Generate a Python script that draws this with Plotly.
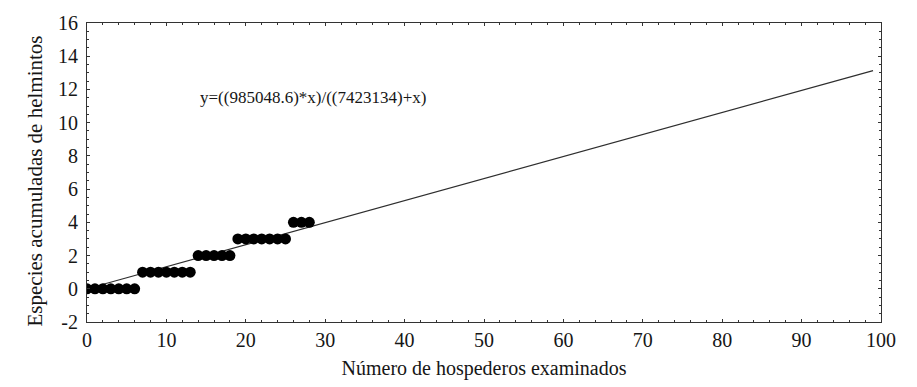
import numpy as np
import plotly.graph_objects as go

# Accumulated helminth species per number of hosts examined
hosts = [0, 1, 2, 3, 4, 5, 6,
         7, 8, 9, 10, 11, 12, 13,
         14, 15, 16, 17, 18,
         19, 20, 21, 22, 23, 24, 25,
         26, 27, 28]
species = [0, 0, 0, 0, 0, 0, 0,
           1, 1, 1, 1, 1, 1, 1,
           2, 2, 2, 2, 2,
           3, 3, 3, 3, 3, 3, 3,
           4, 4, 4]

# Axis tick labels (plain hyphen for negatives)
y_tick_vals = [-2, 0, 2, 4, 6, 8, 10, 12, 14, 16]
y_tick_text = ["-2", "0", "2", "4", "6", "8", "10", "12", "14", "16"]
x_tick_vals = [0, 10, 20, 30, 40, 50, 60, 70, 80, 90, 100]

# Fitted saturation curve parameters
a_coef = 985048.6
b_coef = 7423134
fit_x = np.linspace(0, 99, 200)
fit_y = (a_coef * fit_x) / (b_coef + fit_x)

font_family = "Liberation Serif, Times New Roman, serif"
axis_color = "#333333"
text_color = "#161616"

fig = go.Figure()
fig.add_trace(go.Scatter(
    x=fit_x, y=fit_y, mode="lines",
    line=dict(color="#2e2e2e", width=1.2),
    showlegend=False, hoverinfo="skip",
))
fig.add_trace(go.Scatter(
    x=hosts, y=species, mode="markers",
    marker=dict(color="black", size=11, line=dict(width=0)),
    showlegend=False, cliponaxis=True,
))

# Fitted equation
fig.add_annotation(
    x=0.14, y=0.75, xref="paper", yref="paper",
    xanchor="left", yanchor="middle", showarrow=False,
    text="y=((985048.6)*x)/((7423134)+x)",
    font=dict(family=font_family, size=17, color=text_color),
)

# Y-axis title
fig.add_annotation(
    x=35, y=0.47, xref="paper", yref="paper",
    xanchor="center", yanchor="middle", showarrow=False,
    text="Especies acumuladas de helmintos", textangle=-90,
    font=dict(family=font_family, size=21, color=text_color),
)
fig.layout.annotations[-1].update(x=-(87 - 35) / 794)

common_axis = dict(
    showline=True, linecolor=axis_color, linewidth=1, mirror="ticks",
    ticks="inside", ticklen=3, tickcolor=axis_color, tickwidth=1,
    showgrid=False, zeroline=False,
    tickfont=dict(family=font_family, size=20, color=text_color),
)

fig.update_xaxes(
    range=[0, 100], tickmode="array", tickvals=x_tick_vals,
    minor=dict(dtick=2, tick0=0, ticks="inside", ticklen=2, tickcolor=axis_color),
    title=dict(text="Número de hospederos examinados",
               font=dict(family=font_family, size=20, color=text_color),
               standoff=10),
    **common_axis,
)
fig.update_yaxes(
    range=[-2, 16], tickmode="array", tickvals=y_tick_vals, ticktext=y_tick_text,
    minor=dict(dtick=0.5, tick0=0, ticks="inside", ticklen=2, tickcolor=axis_color),
    ticklabelstandoff=4,
    **common_axis,
)

fig.update_layout(
    width=917, height=387,
    margin=dict(l=87, r=36, t=21, b=64),
    paper_bgcolor="white", plot_bgcolor="white",
)

fig.write_html("out.html")
